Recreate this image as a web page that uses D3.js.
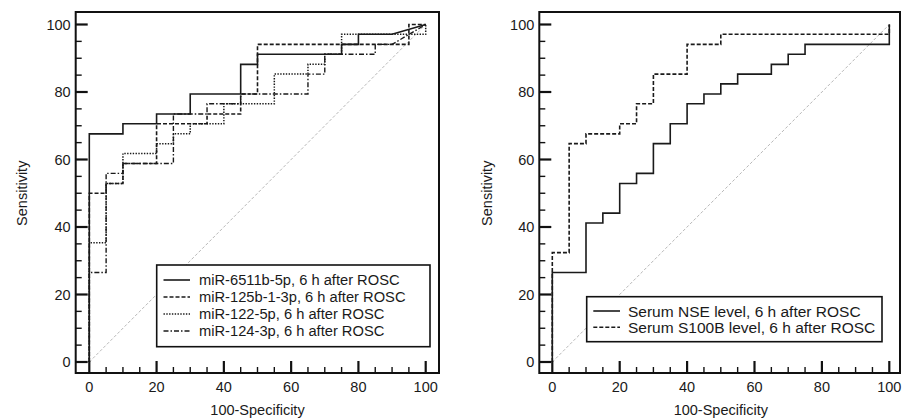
<!DOCTYPE html>
<html><head><meta charset="utf-8">
<script src="https://cdn.jsdelivr.net/npm/d3@7"></script>
<style>
body{margin:0;background:#fff}
svg{display:block}
text{font-family:"Liberation Sans",Arial,sans-serif;fill:#1a1a1a}
</style>
</head><body>
<svg id="c" width="902" height="419"></svg>
<script>
// ---- data ----
const xTickValues = [0, 20, 40, 60, 80, 100];
const yTickValues = [0, 20, 40, 60, 80, 100];
const minorStep = 5;
const xTitle = "100-Specificity";
const yTitle = "Sensitivity";

const leftLabels = ["miR-6511b-5p, 6 h after ROSC", "miR-125b-1-3p, 6 h after ROSC", "miR-122-5p, 6 h after ROSC", "miR-124-3p, 6 h after ROSC"];
const rightLabels = ["Serum NSE level, 6 h after ROSC", "Serum S100B level, 6 h after ROSC"];

const s6511b = [[0,0],[0,67.6],[10,67.6],[10,70.6],[20,70.6],[20,73.5],[30,73.5],[30,79.4],[45,79.4],[45,88.2],[50,88.2],[50,91.2],[75,91.2],[75,94.1],[80,94.1],[80,97.1],[90,97.1],[100,100]];
const s125b = [[0,0],[0,50],[5,50],[5,52.9],[10,52.9],[10,58.8],[20,58.8],[20,70.6],[35,70.6],[35,73.5],[45,73.5],[45,79.4],[50,79.4],[50,94.1],[95,94.1],[95,100],[100,100]];
const s122 = [[0,0],[0,35.3],[5,35.3],[5,52.9],[10,52.9],[10,61.8],[20,61.8],[20,64.7],[25,64.7],[25,67.6],[30,67.6],[30,70.6],[40,70.6],[40,76.5],[55,76.5],[55,85.3],[65,85.3],[65,88.2],[70,88.2],[70,91.2],[75,91.2],[75,97.1],[100,97.1],[100,100]];
const s124 = [[0,0],[0,26.5],[5,26.5],[5,55.9],[10,55.9],[10,58.8],[25,58.8],[25,73.5],[35,73.5],[35,76.5],[45,76.5],[45,79.4],[65,79.4],[65,85.3],[70,85.3],[70,91.2],[85,91.2],[85,94.1],[90,94.1],[100,100]];

const sNSE = [[0,0],[0,26.5],[10,26.5],[10,41.2],[15,41.2],[15,44.1],[20,44.1],[20,52.9],[25,52.9],[25,55.9],[30,55.9],[30,64.7],[35,64.7],[35,70.6],[40,70.6],[40,76.5],[45,76.5],[45,79.4],[50,79.4],[50,82.4],[55,82.4],[55,85.3],[65,85.3],[65,88.2],[70,88.2],[70,91.2],[75,91.2],[75,94.1],[100,94.1],[100,100]];
const sS100B = [[0,0],[0,32.4],[5,32.4],[5,64.7],[10,64.7],[10,67.6],[20,67.6],[20,70.6],[25,70.6],[25,76.5],[30,76.5],[30,85.3],[40,85.3],[40,94.1],[50,94.1],[50,97.1],[100,97.1],[100,100]];

// ---- styles ----
const styles = {
  solid:   {dash: null,          w: 1.6},
  dashed:  {dash: "4,2",         w: 1.6},
  dotted:  {dash: "1.4,1.4",     w: 1.5},
  dashdot: {dash: "5,2,1.5,2",   w: 1.4}
};

const panels = [
  {x0: 89.3, x100: 425.7, frameL: 75.7, frameR: 439,
   series: [s6511b, s125b, s122, s124], kinds: ["solid","dashed","dotted","dashdot"], labels: leftLabels,
   legend: {x: 156.7, y: 265, w: 273.3, h: 81.7, rowY: 280, rowH: 17, lineX1: 163.5, lineX2: 190, textX: 199, fs: 14.7},
   yTitleX: 22},
  {x0: 552.3, x100: 889.3, frameL: 539.3, frameR: 900,
   series: [sNSE, sS100B], kinds: ["solid","dashed"], labels: rightLabels,
   legend: {x: 586.7, y: 296.7, w: 295.3, h: 45, rowY: 311, rowH: 16.2, lineX1: 593.3, lineX2: 620, textX: 628, fs: 15.5},
   yTitleX: 487}
];
const Y0 = 362, Y100 = 24.5, frameT = 12, frameB = 373;

const svg = d3.select("#c");
const line = d3.line();

panels.forEach(p => {
  const x = d3.scaleLinear().domain([0, 100]).range([p.x0, p.x100]);
  const y = d3.scaleLinear().domain([0, 100]).range([Y0, Y100]);
  const g = svg.append("g");
  const minors = d3.range(0, 101, minorStep).filter(v => !xTickValues.includes(v));
  const yMinors = d3.range(0, 101, minorStep).filter(v => !yTickValues.includes(v));

  // diagonal reference
  g.append("path").attr("d", line([[x(0), y(0)], [x(100), y(100)]]))
    .attr("stroke", "#b8b8b8").attr("stroke-width", 1).attr("stroke-dasharray", "3,2").attr("fill", "none");

  // curves
  p.series.forEach((s, i) => {
    const st = styles[p.kinds[i]];
    g.append("path").attr("d", line(s.map(d => [x(d[0]), y(d[1])])))
      .attr("fill", "none").attr("stroke", "#1a1a1a").attr("stroke-width", st.w)
      .attr("stroke-dasharray", st.dash).attr("stroke-linejoin", "miter");
  });

  // frame
  g.append("rect").attr("x", p.frameL).attr("y", frameT)
    .attr("width", p.frameR - p.frameL).attr("height", frameB - frameT)
    .attr("fill", "none").attr("stroke", "#111").attr("stroke-width", 2);

  // y ticks (inside)
  yTickValues.forEach(v => {
    g.append("line").attr("x1", p.frameL).attr("x2", p.frameL + 12).attr("y1", y(v)).attr("y2", y(v))
      .attr("stroke", "#111").attr("stroke-width", 2.2);
    g.append("text").attr("x", p.frameL - 5).attr("y", y(v)).attr("dy", "0.36em")
      .attr("text-anchor", "end").attr("font-size", 14.5).text(v);
  });
  yMinors.forEach(v => {
    g.append("line").attr("x1", p.frameL).attr("x2", p.frameL + 6).attr("y1", y(v)).attr("y2", y(v))
      .attr("stroke", "#111").attr("stroke-width", 1.4);
  });
  // x ticks
  xTickValues.forEach(v => {
    g.append("line").attr("x1", x(v)).attr("x2", x(v)).attr("y1", frameB).attr("y2", frameB - 12)
      .attr("stroke", "#111").attr("stroke-width", 2.2);
    g.append("text").attr("x", x(v)).attr("y", frameB + 19)
      .attr("text-anchor", "middle").attr("font-size", 14.5).text(v);
  });
  minors.forEach(v => {
    g.append("line").attr("x1", x(v)).attr("x2", x(v)).attr("y1", frameB).attr("y2", frameB - 6)
      .attr("stroke", "#111").attr("stroke-width", 1.4);
  });

  // titles
  g.append("text").attr("x", x(50)).attr("y", 415).attr("text-anchor", "middle")
    .attr("font-size", 14.5).text(xTitle);
  g.append("text").attr("transform", `translate(${p.yTitleX},${y(50)}) rotate(-90)`)
    .attr("text-anchor", "middle").attr("dy", "0.36em").attr("font-size", 14.5).text(yTitle);

  // legend
  const L = p.legend;
  g.append("rect").attr("x", L.x).attr("y", L.y).attr("width", L.w).attr("height", L.h)
    .attr("fill", "#fff").attr("stroke", "#111").attr("stroke-width", 1.6);
  p.labels.forEach((lab, i) => {
    const st = styles[p.kinds[i]];
    const ry = L.rowY + i * L.rowH;
    g.append("line").attr("x1", L.lineX1).attr("x2", L.lineX2).attr("y1", ry).attr("y2", ry)
      .attr("stroke", "#1a1a1a").attr("stroke-width", st.w).attr("stroke-dasharray", st.dash);
    g.append("text").attr("x", L.textX).attr("y", ry).attr("dy", "0.36em")
      .attr("font-size", L.fs).text(lab);
  });
});
</script>
</body></html>
